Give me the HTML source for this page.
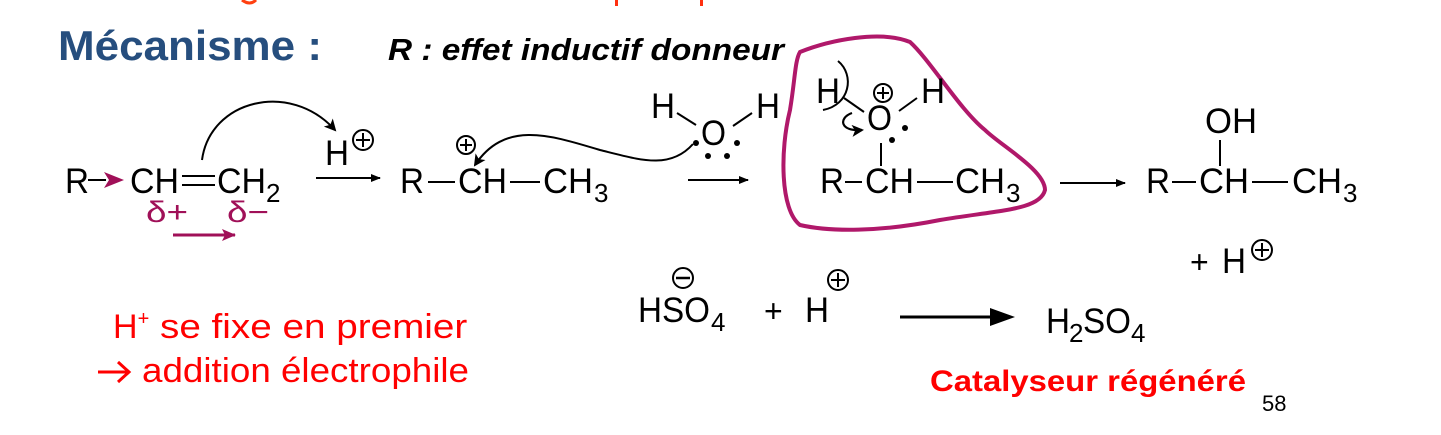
<!DOCTYPE html>
<html><head><meta charset="utf-8"><style>
html,body{margin:0;padding:0;background:#fff;}
svg{display:block;}
text{font-family:"Liberation Sans",Arial,sans-serif;}
</style></head><body>
<svg width="1441" height="435" viewBox="0 0 1441 435" xmlns="http://www.w3.org/2000/svg">
<defs>
<marker id="ah" markerWidth="10" markerHeight="8" refX="9" refY="4" orient="auto" markerUnits="userSpaceOnUse"><path d="M0,0 L10,4 L0,8 Z" fill="#000"/></marker>
<marker id="ahm" markerWidth="14" markerHeight="12" refX="13" refY="6" orient="auto" markerUnits="userSpaceOnUse"><path d="M0,0 L14,6 L0,12 L3,6 Z" fill="#a01058"/></marker>
<marker id="ahc" markerWidth="12" markerHeight="12" refX="10" refY="6" orient="auto" markerUnits="userSpaceOnUse"><path d="M0,0 L12,6 L0,12 L3,6 Z" fill="#000"/></marker>
</defs>
<path d="M256,0 q-6,6 -14,0" stroke="#ff4010" stroke-width="3" fill="none"/>
<rect x="615" y="0" width="3" height="6" fill="#ff3010"/>
<rect x="700" y="0" width="3" height="6" fill="#ff3010"/>

<text x="58" y="60" font-size="42" font-weight="bold" fill="#264e7e" textLength="264" lengthAdjust="spacingAndGlyphs">Mécanisme :</text>
<text x="388" y="60" font-size="31" font-weight="bold" font-style="italic" fill="#000" textLength="396" lengthAdjust="spacingAndGlyphs">R : effet inductif donneur</text>

<g font-size="35" fill="#000">
<text x="65" y="193" textLength="24" lengthAdjust="spacingAndGlyphs">R</text>
<line x1="88" y1="180" x2="106" y2="180" stroke="#000" stroke-width="2"/>
<path d="M104,172 L124,180 L104,188 L109,180 Z" fill="#a01058"/>
<text x="130" y="193" textLength="49" lengthAdjust="spacingAndGlyphs">CH</text>
<line x1="182" y1="176" x2="215" y2="176" stroke="#000" stroke-width="2"/>
<line x1="182" y1="185" x2="215" y2="185" stroke="#000" stroke-width="2"/>
<text x="217" y="193" textLength="49" lengthAdjust="spacingAndGlyphs">CH</text>
<text x="266" y="202" font-size="26">2</text>
<text x="146" y="222" font-size="30" fill="#a01058" textLength="42" lengthAdjust="spacingAndGlyphs">δ+</text>
<text x="227" y="222" font-size="30" fill="#a01058" textLength="42" lengthAdjust="spacingAndGlyphs">δ−</text>
<line x1="173" y1="235" x2="235" y2="235" stroke="#a01058" stroke-width="3" marker-end="url(#ahm)"/>
<path d="M202,160 C210,100 290,80 335,130" stroke="#000" stroke-width="2" fill="none" marker-end="url(#ahc)"/>

<text x="325" y="165" textLength="24" lengthAdjust="spacingAndGlyphs">H</text>
<circle cx="363" cy="140" r="10" fill="none" stroke="#000" stroke-width="2"/>
<path d="M356,140 h14 M363,133 v14" stroke="#000" stroke-width="2"/>
<line x1="316" y1="178" x2="380" y2="178" stroke="#000" stroke-width="2" marker-end="url(#ah)"/>

<text x="400" y="193" textLength="24" lengthAdjust="spacingAndGlyphs">R</text>
<line x1="428" y1="182" x2="455" y2="182" stroke="#000" stroke-width="2"/>
<text x="458" y="193" textLength="49" lengthAdjust="spacingAndGlyphs">CH</text>
<line x1="510" y1="182" x2="540" y2="182" stroke="#000" stroke-width="2"/>
<text x="543" y="193" textLength="50" lengthAdjust="spacingAndGlyphs">CH</text>
<text x="594" y="202" font-size="26">3</text>
<circle cx="466" cy="145" r="9" fill="none" stroke="#000" stroke-width="2"/>
<path d="M460,145 h12 M466,139 v12" stroke="#000" stroke-width="2"/>
<path d="M693,144 C670,170 640,160 600,150 C550,135 505,120 475,165" stroke="#000" stroke-width="2" fill="none" marker-end="url(#ahc)"/>

<text x="651" y="118" textLength="24" lengthAdjust="spacingAndGlyphs">H</text>
<line x1="677" y1="113" x2="696" y2="125" stroke="#000" stroke-width="2"/>
<text x="701" y="145" textLength="25" lengthAdjust="spacingAndGlyphs">O</text>
<line x1="733" y1="126" x2="752" y2="113" stroke="#000" stroke-width="2"/>
<text x="756" y="118" textLength="24" lengthAdjust="spacingAndGlyphs">H</text>
<circle cx="696" cy="143" r="3" fill="#000"/><circle cx="737" cy="143" r="3" fill="#000"/>
<circle cx="708" cy="156" r="3" fill="#000"/><circle cx="727" cy="156" r="3" fill="#000"/>
<line x1="688" y1="180" x2="748" y2="180" stroke="#000" stroke-width="2" marker-end="url(#ah)"/>

<path d="M800,52 C830,40 880,30 910,42 C930,60 960,110 985,130 C1000,145 1045,170 1045,190 C1040,210 1000,210 940,220 C880,232 830,232 800,225 C780,210 780,150 790,110 C795,80 795,60 800,52 Z" stroke="#b0186a" stroke-width="4" fill="none"/>
<text x="816" y="103" textLength="24" lengthAdjust="spacingAndGlyphs">H</text>
<line x1="844" y1="98" x2="864" y2="112" stroke="#000" stroke-width="2"/>
<text x="867" y="130" textLength="25" lengthAdjust="spacingAndGlyphs">O</text>
<line x1="899" y1="111" x2="917" y2="98" stroke="#000" stroke-width="2"/>
<text x="921" y="103" textLength="24" lengthAdjust="spacingAndGlyphs">H</text>
<circle cx="883" cy="93" r="9" fill="none" stroke="#000" stroke-width="2"/>
<path d="M877,93 h12 M883,87 v12" stroke="#000" stroke-width="2"/>
<circle cx="905" cy="128" r="3" fill="#000"/><circle cx="892" cy="140" r="3" fill="#000"/>
<line x1="881" y1="143" x2="881" y2="166" stroke="#000" stroke-width="2"/>
<path d="M838,61 C855,75 850,105 823,110" stroke="#000" stroke-width="2" fill="none"/>
<path d="M852,113 C838,118 840,132 862,130" stroke="#000" stroke-width="2.2" fill="none" marker-end="url(#ahc)"/>
<text x="820" y="193" textLength="24" lengthAdjust="spacingAndGlyphs">R</text>
<line x1="845" y1="182" x2="862" y2="182" stroke="#000" stroke-width="2"/>
<text x="865" y="193" textLength="49" lengthAdjust="spacingAndGlyphs">CH</text>
<line x1="917" y1="182" x2="953" y2="182" stroke="#000" stroke-width="2"/>
<text x="955" y="193" textLength="50" lengthAdjust="spacingAndGlyphs">CH</text>
<text x="1006" y="202" font-size="26">3</text>
<line x1="1060" y1="183" x2="1125" y2="183" stroke="#000" stroke-width="2" marker-end="url(#ah)"/>

<text x="1205" y="133" textLength="52" lengthAdjust="spacingAndGlyphs">OH</text>
<line x1="1220" y1="140" x2="1220" y2="166" stroke="#000" stroke-width="2"/>
<text x="1146" y="193" textLength="24" lengthAdjust="spacingAndGlyphs">R</text>
<line x1="1172" y1="182" x2="1196" y2="182" stroke="#000" stroke-width="2"/>
<text x="1199" y="193" textLength="50" lengthAdjust="spacingAndGlyphs">CH</text>
<line x1="1252" y1="182" x2="1288" y2="182" stroke="#000" stroke-width="2"/>
<text x="1292" y="193" textLength="50" lengthAdjust="spacingAndGlyphs">CH</text>
<text x="1343" y="202" font-size="26">3</text>
<text x="1190" y="273" font-size="32">+</text>
<text x="1222" y="273" textLength="24" lengthAdjust="spacingAndGlyphs">H</text>
<circle cx="1262" cy="250" r="10" fill="none" stroke="#000" stroke-width="2"/>
<path d="M1255,250 h14 M1262,243 v14" stroke="#000" stroke-width="2"/>

<text x="638" y="322" textLength="72" lengthAdjust="spacingAndGlyphs">HSO</text>
<text x="711" y="331" font-size="26">4</text>
<circle cx="683" cy="278" r="10" fill="none" stroke="#000" stroke-width="2"/>
<path d="M676,278 h14" stroke="#000" stroke-width="2.5"/>
<text x="764" y="322" font-size="32">+</text>
<text x="805" y="322" textLength="24" lengthAdjust="spacingAndGlyphs">H</text>
<circle cx="838" cy="280" r="10" fill="none" stroke="#000" stroke-width="2"/>
<path d="M831,280 h14 M838,273 v14" stroke="#000" stroke-width="2"/>
<line x1="900" y1="317" x2="1000" y2="317" stroke="#000" stroke-width="3"/>
<path d="M990,308 L1015,317 L990,326 Z" fill="#000"/>
<text x="1046" y="333" textLength="24" lengthAdjust="spacingAndGlyphs">H</text>
<text x="1069" y="342" font-size="26">2</text>
<text x="1083" y="333" textLength="48" lengthAdjust="spacingAndGlyphs">SO</text>
<text x="1131" y="342" font-size="26">4</text>
</g>

<text x="113" y="338" font-size="34" fill="#ff0000">H<tspan font-size="20" dy="-13">+</tspan><tspan dy="13" textLength="318" lengthAdjust="spacingAndGlyphs"> se fixe en premier</tspan></text>
<path d="M98,372 H128 M118,362 L129,372 L118,382" stroke="#ff0000" stroke-width="3" fill="none"/>
<text x="142" y="382" font-size="34" fill="#ff0000" textLength="327" lengthAdjust="spacingAndGlyphs">addition électrophile</text>
<text x="930" y="391" font-size="30" font-weight="bold" fill="#ff0000" textLength="316" lengthAdjust="spacingAndGlyphs">Catalyseur régénéré</text>
<text x="1262" y="411" font-size="22" fill="#000">58</text>
</svg>
</body></html>
